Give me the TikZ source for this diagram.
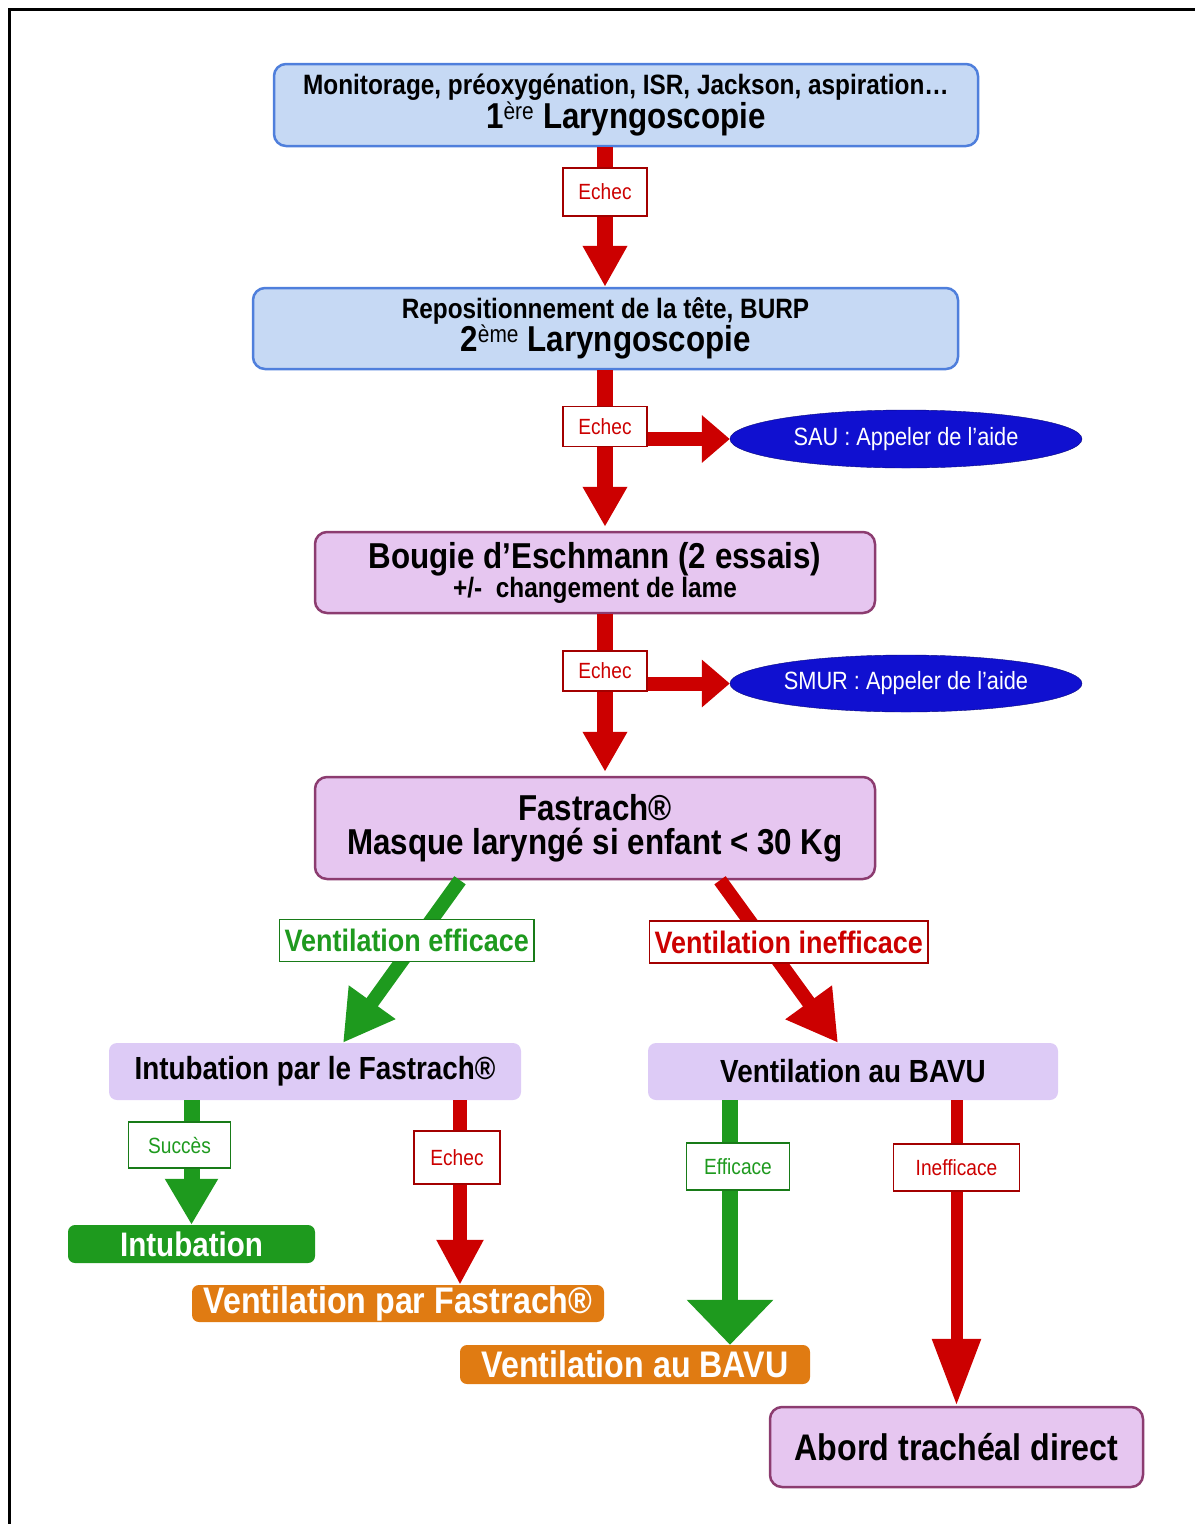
\documentclass[tikz,border=0pt]{standalone}
\usepackage{fontspec}
\setmainfont[FakeStretch=0.87]{Liberation Sans}
\usetikzlibrary{arrows.meta,shapes.geometric}

\definecolor{boxblue}{HTML}{C6D9F4}
\definecolor{lineblue}{HTML}{4F7FDC}
\definecolor{boxmauve}{HTML}{E6C6F0}
\definecolor{linemauve}{HTML}{8C3C70}
\definecolor{boxlilac}{HTML}{DDCBF6}
\definecolor{arrred}{HTML}{CC0000}
\definecolor{arrgreen}{HTML}{1E9A1E}
\definecolor{ovalblue}{HTML}{1010D0}
\definecolor{boxorange}{HTML}{E07B12}

\newcommand{\smalltxt}{\fontsize{28}{34}\selectfont\bfseries}
\newcommand{\bigtxt}{\fontsize{36}{38}\selectfont\bfseries}
\newcommand{\expo}[1]{\textsuperscript{\fontsize{24}{24}\selectfont\mdseries #1}}

\begin{document}
\begin{tikzpicture}[x=1pt,y=-1pt,
        bluebox/.style={draw=lineblue, line width=2.5pt, fill=boxblue, rounded corners=12pt, align=center, inner sep=0pt},
        mauvebox/.style={draw=linemauve, line width=2.5pt, fill=boxmauve, rounded corners=12pt, align=center, inner sep=0pt},
        lilacbox/.style={fill=boxlilac, rounded corners=8pt, inner sep=0pt, font=\fontsize{32}{36}\selectfont\bfseries},
        colbox/.style={fill=#1, rounded corners=7pt, inner sep=0pt, text=white, font=\fontsize{37}{40}\selectfont\bfseries},
        oval/.style={ellipse, draw=ovalblue!60!black, fill=ovalblue, text=white, inner sep=0pt, minimum width=352pt, minimum height=58pt, font=\fontsize{25}{28}\selectfont},
        lbl/.style={draw=#1!80!black, fill=white, text=#1, line width=1.5pt, inner sep=0pt, font=\fontsize{22}{24}\selectfont},
        biglbl/.style={lbl=#1, inner xsep=5pt, minimum height=42pt, font=\fontsize{31}{34}\selectfont\bfseries},
        redarr/.style n args={3}{draw=arrred, line width=#1, -{Triangle[width=#2,length=#3]}},
        greenarr/.style n args={3}{draw=arrgreen, line width=#1, -{Triangle[width=#2,length=#3]}}]
        \useasboundingbox (0,0) rectangle (1195,1524);
        \draw[line width=3pt] (9,1524) -- (9,9) -- (1195,9);
        \coordinate (spine) at (605,0);

        \node (lar1) at (626,105) [bluebox, minimum width=704pt, minimum height=82pt] {\smalltxt Monitorage, préoxygénation, ISR, Jackson, aspiration…\\ \bigtxt 1\expo{ère} Laryngoscopie};
        \node (lar2) at (605.5,328.5) [bluebox, minimum width=705pt, minimum height=81pt] {\smalltxt Repositionnement de la tête, BURP\\ \bigtxt 2\expo{ème} Laryngoscopie};
        \node (bou) at (595,572.5) [mauvebox, minimum width=560pt, minimum height=81pt] {\bigtxt Bougie d’Eschmann (2 essais)\\ \smalltxt +/-~ changement de lame};
        \node (fas) at (595,828) [mauvebox, minimum width=560pt, minimum height=102pt] {\bigtxt Fastrach®\\[6pt] \bigtxt Masque laryngé si enfant < 30 Kg};
        \node (sau) at (906,439) [oval] {SAU : Appeler de l'aide};
        \node (smur) at (906,683.5) [oval, minimum height=57pt] {SMUR : Appeler de l'aide};
        \node (intfas) at (315,1071.5) [lilacbox, minimum width=412pt, minimum height=57pt] {Intubation par le Fastrach®};
        \node (venbavu) at (853,1071.5) [lilacbox, minimum width=410pt, minimum height=57pt] {Ventilation au BAVU};
        \node (intub) at (191.5,1244) [colbox=arrgreen, minimum width=247pt, minimum height=38pt, font=\fontsize{34}{36}\selectfont\bfseries] {Intubation};
        \node (vfast) at (398,1303.5) [colbox=boxorange, minimum width=412pt, minimum height=37pt] {Ventilation par Fastrach®};
        \node (vbavu) at (635,1364.5) [colbox=boxorange, minimum width=350pt, minimum height=39pt] {Ventilation au BAVU};
        \node (abord) at (956.5,1447) [mauvebox, minimum width=373pt, minimum height=80pt, font=\fontsize{37}{40}\selectfont\bfseries] {Abord trachéal direct};

        \draw[redarr={16pt}{42pt}{41pt}] (lar1.south -| spine) -- node[lbl=arrred, pos=0.32, minimum width=84pt, minimum height=48pt] (ech1) {Echec} (lar2.north -| spine);
        \draw[redarr={16pt}{42pt}{40pt}] (lar2.south -| spine) -- node[lbl=arrred, pos=0.36, minimum width=84pt, minimum height=40pt] (ech2) {Echec} ([yshift=4pt]bou.north -| spine);
        \draw[redarr={14pt}{46pt}{28pt}] (ech2.east |- sau.west) -- (sau.west);
        \draw[redarr={16pt}{42pt}{40pt}] (bou.south -| spine) -- node[lbl=arrred, pos=0.36, minimum width=84pt, minimum height=40pt] (ech3) {Echec} ([yshift=4pt]fas.north -| spine);
        \draw[redarr={14pt}{46pt}{28pt}] (ech3.east |- smur.west) -- (smur.west);

        \draw[greenarr={14pt}{54pt}{50pt}] ([xshift=-135pt]fas.south) -- node[biglbl=arrgreen, pos=0.37, xshift=-10pt] (veff) {Ventilation efficace} ([xshift=28pt]intfas.north);
        \draw[redarr={14pt}{54pt}{50pt}] ([xshift=125pt]fas.south) -- node[biglbl=arrred, pos=0.38, xshift=24pt] (vineff) {Ventilation inefficace} ([xshift=-15pt]venbavu.north);

        \draw[greenarr={16pt}{50pt}{46pt}] (intfas.south -| intub.north) -- node[lbl=arrgreen, pos=0.36, xshift=-12pt, minimum width=102pt, minimum height=46pt] (succ) {Succès} (intub.north);
        \draw[redarr={14pt}{44pt}{45pt}] ([xshift=145pt]intfas.south) -- node[lbl=arrred, pos=0.31, xshift=-3pt, minimum width=86pt, minimum height=53pt] (ech4) {Echec} ([xshift=62pt]vfast.north);
        \draw[greenarr={16pt}{84pt}{45pt}] ([xshift=-123pt]venbavu.south) -- node[lbl=arrgreen, pos=0.27, xshift=8pt, minimum width=103pt, minimum height=47pt] (eff) {Efficace} ([xshift=95pt]vbavu.north);
        \draw[redarr={12pt}{46pt}{67pt}] (venbavu.south -| abord.north) -- node[lbl=arrred, pos=0.22, minimum width=126pt, minimum height=47pt] (ineff) {Inefficace} (abord.north);
\end{tikzpicture}
\end{document}
